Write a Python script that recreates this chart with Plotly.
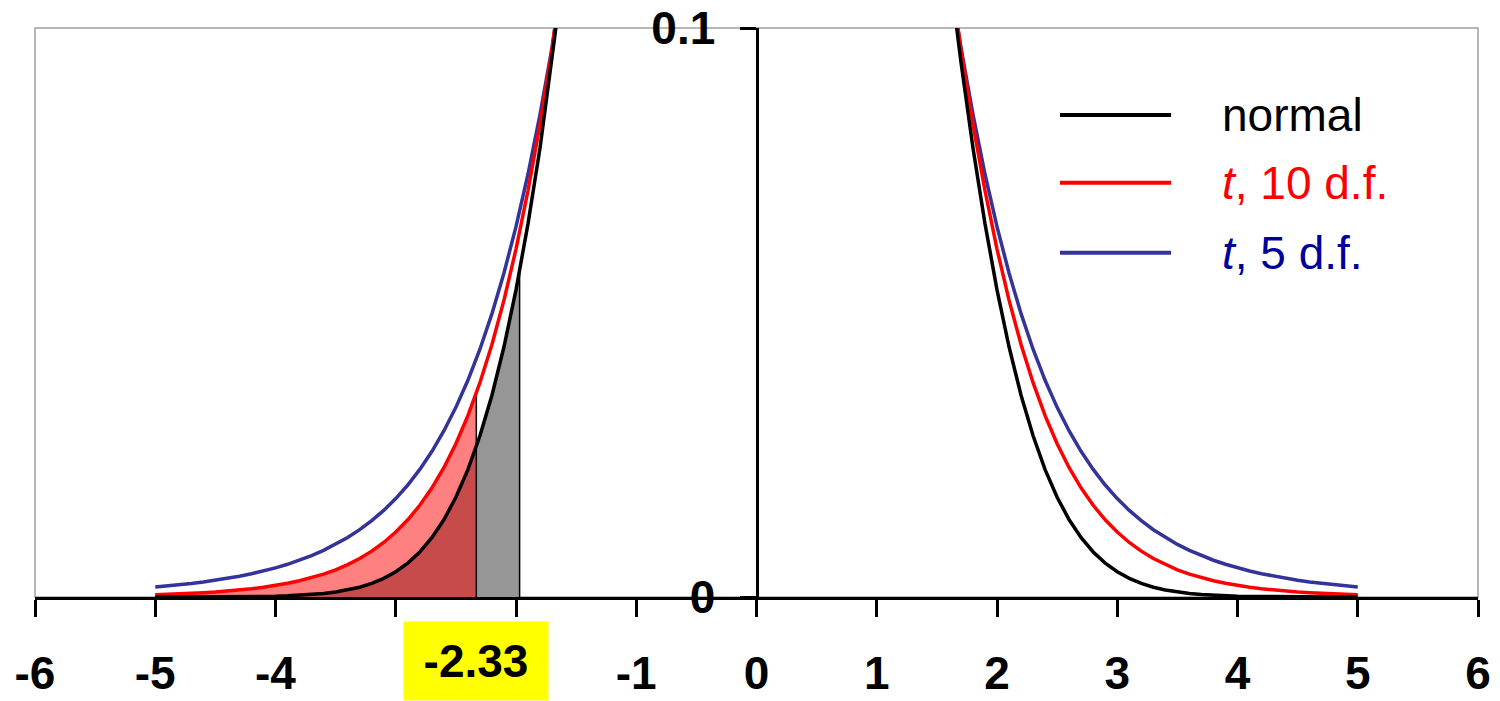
import plotly.graph_objects as go

# ---- data (densities, symmetric about 0) ----
X_HALF = [0.0, 0.1, 0.2, 0.3, 0.4, 0.5, 0.6, 0.7, 0.8, 0.9,
          1.0, 1.1, 1.2, 1.3, 1.4, 1.5, 1.6, 1.7, 1.8, 1.9,
          2.0, 2.1, 2.2, 2.3, 2.4, 2.5, 2.6, 2.7, 2.8, 2.9,
          3.0, 3.1, 3.2, 3.3, 3.4, 3.5, 3.6, 3.7, 3.8, 3.9,
          4.0, 4.1, 4.2, 4.3, 4.4, 4.5, 4.6, 4.7, 4.8, 4.9, 5.0]

NORMAL_HALF = [0.39894, 0.39695, 0.39104, 0.38139, 0.36827, 0.35207, 0.33322, 0.31225, 0.28969, 0.26609,
               0.24197, 0.21785, 0.19419, 0.17137, 0.14973, 0.12952, 0.11092, 0.09405, 0.07895, 0.06562,
               0.05399, 0.04398, 0.03547, 0.02833, 0.02239, 0.01753, 0.01358, 0.01042, 0.00792, 0.00595,
               0.00443, 0.00327, 0.00238, 0.00172, 0.00123, 0.00087, 0.00061, 0.00042, 0.00029, 0.00020,
               0.00013, 0.00009, 0.00006, 0.00004, 0.00002, 0.00002, 0.00001, 0.00001, 0.0, 0.0, 0.0]

T10_HALF = [0.38911, 0.38698, 0.38066, 0.37040, 0.35658, 0.33970, 0.32033, 0.29909, 0.27662, 0.25353,
            0.23038, 0.20762, 0.18567, 0.16485, 0.14540, 0.12745, 0.11108, 0.09632, 0.08311, 0.07144,
            0.06114, 0.05217, 0.04438, 0.03766, 0.03188, 0.02694, 0.02273, 0.01915, 0.01612, 0.01356,
            0.01141, 0.00958, 0.00806, 0.00677, 0.00569, 0.00478, 0.00403, 0.00339, 0.00286, 0.00241,
            0.00203, 0.00172, 0.00145, 0.00123, 0.00104, 0.00088, 0.00075, 0.00064, 0.00054, 0.00046, 0.00040]

T5_HALF = [0.37961, 0.37734, 0.37064, 0.35983, 0.34538, 0.32792, 0.30815, 0.28677, 0.26449, 0.24195,
           0.21968, 0.19814, 0.17766, 0.15848, 0.14074, 0.12452, 0.10982, 0.09661, 0.08481, 0.07434,
           0.06509, 0.05695, 0.04980, 0.04355, 0.03809, 0.03333, 0.02918, 0.02556, 0.02242, 0.01968,
           0.01729, 0.01522, 0.01341, 0.01183, 0.01045, 0.00924, 0.00819, 0.00727, 0.00646, 0.00575,
           0.00512, 0.00457, 0.00409, 0.00366, 0.00328, 0.00295, 0.00265, 0.00239, 0.00215, 0.00194, 0.00176]

CUTOFF = -2.33
NORMAL_AT_CUTOFF = 0.0264
T10_AT_CUTOFF = 0.0358
GRAY_EDGE = -1.97
NORMAL_AT_GRAY_EDGE = 0.0573

X_TICKS = [-6, -5, -4, -3, -2, -1, 0, 1, 2, 3, 4, 5, 6]
X_TICK_TEXT = ["-6", "-5", "-4", "", "", "-1", "0", "1", "2", "3", "4", "5", "6"]
Y_TICKS = [0, 0.1]
Y_TICK_TEXT = ["0", "0.1"]

SERIES_NAMES = ["normal", "<i>t</i>, 10 d.f.", "<i>t</i>, 5 d.f."]
LINE_COLORS = ["#000000", "#FF0000", "#333399"]
TEXT_COLORS = ["#000000", "#FF0000", "#000099"]

# ---- build full symmetric curves ----
xs = [-v for v in reversed(X_HALF[1:])] + X_HALF
def mirror(h):
    return list(reversed(h[1:])) + h
normal = mirror(NORMAL_HALF)
t10 = mirror(T10_HALF)
t5 = mirror(T5_HALF)

left_idx = [i for i, x in enumerate(xs) if x < CUTOFF - 1e-9]
mid_idx = [i for i, x in enumerate(xs) if CUTOFF < x < GRAY_EDGE - 1e-9]

FONT = "Arial, Liberation Sans, sans-serif"

fig = go.Figure()

# light red: area under t10 left of cutoff
fig.add_trace(go.Scatter(
    x=[xs[i] for i in left_idx] + [CUTOFF],
    y=[t10[i] for i in left_idx] + [T10_AT_CUTOFF],
    fill="tozeroy", fillcolor="#FF8080", mode="lines",
    line=dict(width=0), hoverinfo="skip", showlegend=False))
# dark red: area under normal left of cutoff
fig.add_trace(go.Scatter(
    x=[xs[i] for i in left_idx] + [CUTOFF],
    y=[normal[i] for i in left_idx] + [NORMAL_AT_CUTOFF],
    fill="tozeroy", fillcolor="#C84B4B", mode="lines",
    line=dict(width=0), hoverinfo="skip", showlegend=False))
# gray: area under normal between cutoff and gray edge
fig.add_trace(go.Scatter(
    x=[CUTOFF] + [xs[i] for i in mid_idx] + [GRAY_EDGE],
    y=[NORMAL_AT_CUTOFF] + [normal[i] for i in mid_idx] + [NORMAL_AT_GRAY_EDGE],
    fill="tozeroy", fillcolor="#969696", mode="lines",
    line=dict(width=0), hoverinfo="skip", showlegend=False))
# edge lines
fig.add_trace(go.Scatter(x=[CUTOFF, CUTOFF], y=[0, T10_AT_CUTOFF], mode="lines",
                         line=dict(color="#000000", width=1.5), hoverinfo="skip", showlegend=False))
fig.add_trace(go.Scatter(x=[GRAY_EDGE, GRAY_EDGE], y=[0, NORMAL_AT_GRAY_EDGE], mode="lines",
                         line=dict(color="#000000", width=1.5), hoverinfo="skip", showlegend=False))

# curves (t5 first so normal is on top)
for ys, name, col in [(t5, SERIES_NAMES[2], LINE_COLORS[2]),
                      (t10, SERIES_NAMES[1], LINE_COLORS[1]),
                      (normal, SERIES_NAMES[0], LINE_COLORS[0])]:
    fig.add_trace(go.Scatter(x=xs, y=ys, mode="lines", name=name,
                             line=dict(color=col, width=3.5), showlegend=False))

# manual legend
LEG_Y = [0.847, 0.728, 0.605]
for i in range(3):
    fig.add_shape(type="line", xref="paper", yref="paper",
                  x0=0.7103, x1=0.7873, y0=LEG_Y[i], y1=LEG_Y[i],
                  line=dict(color=LINE_COLORS[i], width=4))
    fig.add_annotation(xref="paper", yref="paper", x=0.8212, y=LEG_Y[i],
                       xanchor="left", yanchor="middle", showarrow=False,
                       text=SERIES_NAMES[i],
                       font=dict(family=FONT, size=46, color=TEXT_COLORS[i]))

# plot-area frame (gray)
fig.add_shape(type="rect", xref="paper", yref="paper", x0=0, x1=1, y0=0, y1=1,
              line=dict(color="#A0A0A0", width=1.5), layer="below")

# highlighted tick label
fig.add_annotation(xref="x", yref="paper", x=CUTOFF, y=-0.1125,
                   xanchor="center", yanchor="middle", showarrow=False,
                   text="<b>-2.33</b>", bgcolor="#FFFF00",
                   width=124, height=58, borderpad=10,
                   font=dict(family=FONT, size=46, color="#000000"))

# page has an 8px body margin, so the figure is sized to fit the 1500x701 window
fig.update_layout(
    width=1492, height=693,
    margin=dict(l=27, r=22, t=20, b=104),
    paper_bgcolor="white", plot_bgcolor="white",
    showlegend=False,
    xaxis=dict(range=[-6, 6], tickvals=X_TICKS, ticktext=X_TICK_TEXT,
               automargin=False, ticklabeloverflow="allow",
               showgrid=False, zeroline=False,
               showline=True, linecolor="#000000", linewidth=3,
               ticks="outside", ticklen=17, tickwidth=3, tickcolor="#000000",
               tickfont=dict(family=FONT, size=46, color="#000000", weight="bold"),
               ticklabelstandoff=17),
    yaxis=dict(range=[0, 0.1], tickvals=Y_TICKS, ticktext=Y_TICK_TEXT,
               anchor="free", position=0.5, automargin=False,
               ticklabeloverflow="allow",
               showgrid=False, zeroline=False,
               showline=True, linecolor="#000000", linewidth=3,
               ticks="outside", ticklen=16, tickwidth=3, tickcolor="#000000",
               tickfont=dict(family=FONT, size=46, color="#000000", weight="bold"),
               ticklabelstandoff=15),
)

fig.write_html("out.html")
